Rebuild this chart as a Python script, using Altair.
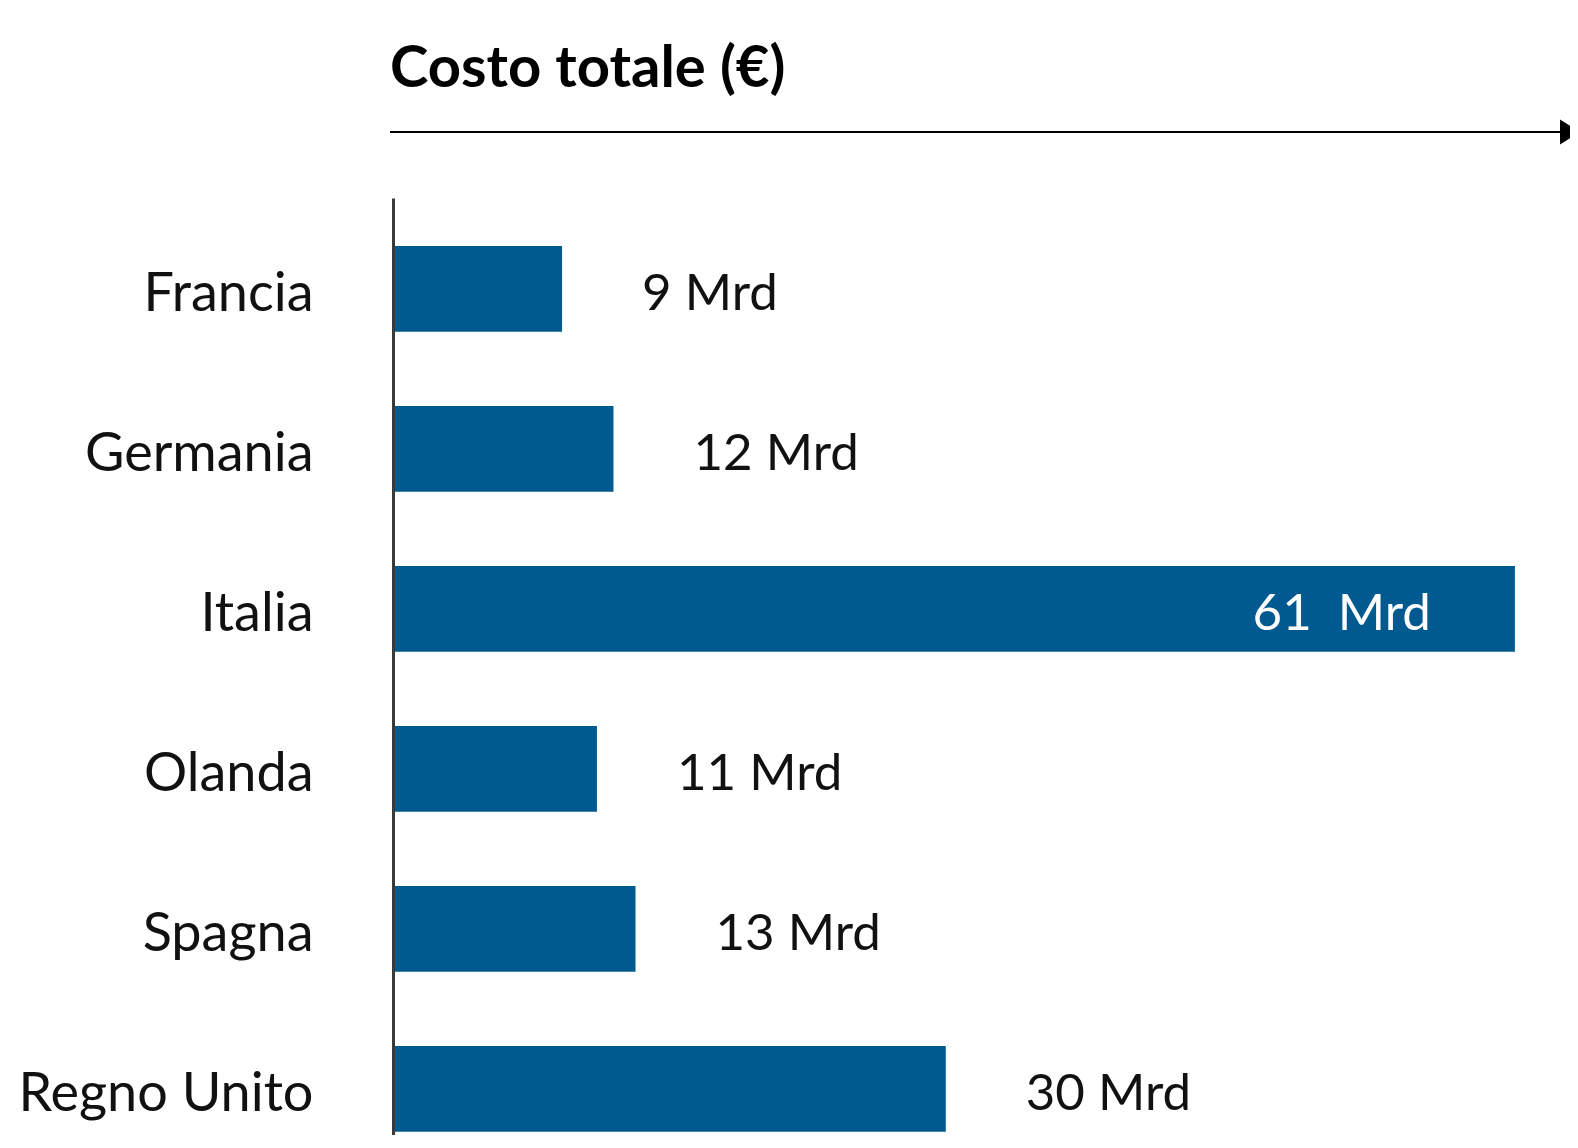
import altair as alt
import pandas as pd

countries = ["Francia", "Germania", "Italia", "Olanda", "Spagna", "Regno Unito"]
values = [9.1, 11.9, 61.0, 11.0, 13.1, 30.0]
labels = ["9 Mrd", "12 Mrd", "61\u00a0 Mrd", "11 Mrd", "13 Mrd", "30 Mrd"]
inside = [False, False, True, False, False, False]
title_text = "Costo totale (€)"

df = pd.DataFrame({"country": countries, "value": values, "label": labels, "inside": inside})

FONT = "Lato"
BAR = "#015A8F"
W, H = 1175, 937

y_enc = alt.Y(
    "country:N",
    sort=countries,
    scale=alt.Scale(paddingInner=0.4644, paddingOuter=0.1603, align=0.9357),
    axis=alt.Axis(
        title=None, ticks=False, domain=True, domainColor="#3a3a3a", domainWidth=3,
        offset=2, labelPadding=80, labelFont=FONT, labelFontSize=54, labelColor="#111111",
        labelBaseline="alphabetic", labelOffset=22, labelAlign="right", grid=False,
        labelLimit=0,
    ),
)
x_enc = alt.X("value:Q", scale=alt.Scale(domain=[0, 64], nice=False), axis=None)

base = alt.Chart(df)

bars = base.mark_bar(color=BAR).encode(x=x_enc, y=y_enc)

out_labels = base.transform_filter("!datum.inside").mark_text(
    align="left", baseline="alphabetic", dx=80, dy=21, font=FONT, fontSize=51, color="#111111"
).encode(x="value:Q", y=alt.Y("country:N", sort=countries), text="label:N")

in_labels = base.transform_filter("datum.inside").mark_text(
    align="right", baseline="alphabetic", dx=-84, dy=21, font=FONT, fontSize=51, color="white"
).encode(x="value:Q", y=alt.Y("country:N", sort=countries), text="label:N")

title_df = pd.DataFrame({"t": [title_text]})
title = alt.Chart(title_df).mark_text(
    align="left", baseline="alphabetic", font=FONT, fontSize=58, fontWeight="bold", color="#000000"
).encode(x=alt.value(-5), y=alt.value(-111), text="t:N")

arrow_line = alt.Chart(title_df).mark_rule(color="#000000", strokeWidth=2).encode(
    x=alt.value(-5), x2=alt.value(1166), y=alt.value(-66)
)
arrow_head = alt.Chart(title_df).mark_point(
    shape="M0,-1L1.6,0L0,1Z", filled=True, color="#000000", opacity=1, size=625
).encode(x=alt.value(1165), y=alt.value(-66))

chart = alt.layer(bars, out_labels, in_labels, title, arrow_line, arrow_head).properties(
    width=W, height=H,
    autosize=alt.AutoSizeParams(type="none"),
    padding={"left": 387, "top": 190, "right": 0, "bottom": 0},
    background="white",
).configure_view(stroke=None)

chart.save("out.html", embed_options={"renderer": "svg", "actions": False})
